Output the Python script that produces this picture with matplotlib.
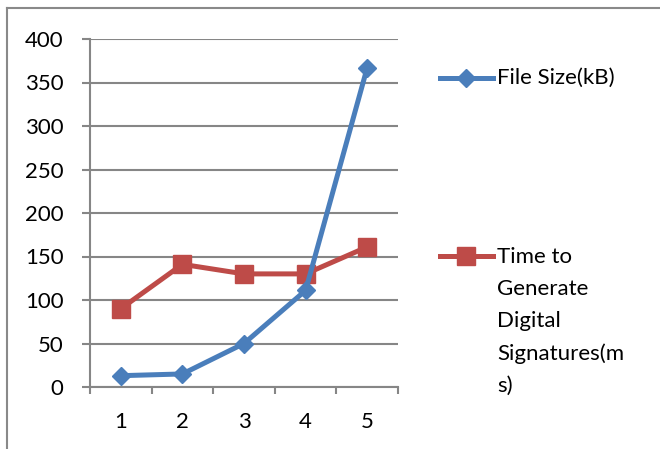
import matplotlib.pyplot as plt
from matplotlib.lines import Line2D

plt.rcParams['font.family'] = ['Lato', 'DejaVu Sans']

categories = [1, 2, 3, 4, 5]
file_size = [13, 15, 50, 111, 367]
sig_time = [90, 141, 130, 130, 161]
labels = ["File Size(kB)", "Time to\nGenerate\nDigital\nSignatures(m\ns)"]

W, H = 660, 449
fig = plt.figure(figsize=(W / 100, H / 100), dpi=100)

def fx(px):
    return px / W

def fy(py):
    return 1 - py / H

ax = fig.add_axes([fx(90), fy(387), fx(398) - fx(90), fy(39) - fy(387)])

blue = '#4A7EBB'
red = '#BE4B48'
ax.plot(categories, sig_time, color=red, lw=3.6, marker='s', ms=13.5, zorder=3)
ax.plot(categories, file_size, color=blue, lw=3.6, marker='D', ms=9.5, zorder=4)

ax.set_xlim(0.5, 5.5)
ax.set_ylim(0, 400)
ax.set_yticks(range(0, 401, 50))
ax.set_xticks(categories)
ax.set_xticks([0.5 + i for i in range(6)], minor=True)
ax.grid(axis='y', color='#868686', lw=1.5)
ax.set_axisbelow(True)
for s in ['top', 'right']:
    ax.spines[s].set_visible(False)
for s in ['left', 'bottom']:
    ax.spines[s].set_color('#868686')
    ax.spines[s].set_linewidth(1.5)
ax.tick_params(axis='y', length=6, width=1.5, color='#868686', pad=13, labelsize=16)
ax.tick_params(axis='x', which='major', length=0, pad=18, labelsize=16)
ax.tick_params(axis='x', which='minor', length=5, width=1.5, color='#868686')
ax.set_facecolor('none')

# outer chart border (left and top edges visible)
fig.add_artist(Line2D([fx(7), fx(7)], [0, fy(8)], color='#898989', lw=1.5))
fig.add_artist(Line2D([fx(7), 1], [fy(8), fy(8)], color='#898989', lw=1.5))

# legend
fig.add_artist(Line2D([fx(440), fx(493)], [fy(78), fy(78)], color=blue, lw=3.6))
fig.add_artist(Line2D([fx(466)], [fy(78)], color=blue, marker='D', ms=9.5))
fig.text(fx(497), fy(78), labels[0], fontsize=16, va='center', ha='left')
fig.add_artist(Line2D([fx(440), fx(493)], [fy(256), fy(256)], color=red, lw=3.6))
fig.add_artist(Line2D([fx(466)], [fy(256)], color=red, marker='s', ms=13.5))
fig.text(fx(497), fy(247), labels[1], fontsize=16, va='top', ha='left', linespacing=1.75)

fig.savefig('out.png', dpi=100)
